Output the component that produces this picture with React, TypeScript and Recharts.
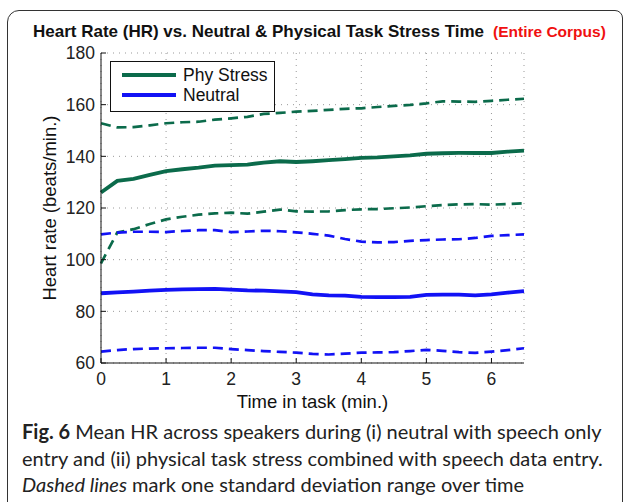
import { LineChart, Line, XAxis, YAxis, CartesianGrid } from "recharts";

// time in task (min.)
const time = [0, 0.25, 0.5, 0.75, 1, 1.25, 1.5, 1.75, 2, 2.25, 2.5, 2.75, 3, 3.25, 3.5, 3.75, 4, 4.25, 4.5, 4.75, 5, 5.25, 5.5, 5.75, 6, 6.25, 6.5];

// physical task stress: mean and +/- 1 std
const phyMean = [126, 130.5, 131.3, 132.8, 134.3, 135, 135.6, 136.4, 136.6, 136.8, 137.6, 138.1, 137.8, 138.1, 138.5, 138.9, 139.4, 139.6, 140, 140.4, 141, 141.2, 141.3, 141.3, 141.3, 141.8, 142.2];
const phyUpper = [152.8, 151.2, 151.3, 152, 152.8, 153.2, 153.4, 154.2, 154.7, 155.3, 156.4, 156.8, 157.3, 157.6, 158, 158.4, 158.6, 159.1, 159.5, 159.9, 160.5, 161.3, 161.2, 161.1, 161.5, 161.9, 162.3];
const phyLower = [98.6, 110.5, 111.8, 113.8, 115.6, 116.6, 117.4, 117.9, 118.2, 117.8, 118.6, 119.4, 118.7, 118.6, 118.7, 119.2, 119.5, 119.6, 119.9, 120.2, 120.7, 121.1, 121.4, 121.5, 121.3, 121.5, 121.8];

// neutral: mean and +/- 1 std
const neuMean = [87, 87.3, 87.6, 88, 88.3, 88.5, 88.6, 88.7, 88.4, 88.1, 88, 87.7, 87.4, 86.6, 86.2, 86.1, 85.6, 85.5, 85.5, 85.6, 86.4, 86.5, 86.5, 86.2, 86.6, 87.2, 87.8];
const neuUpper = [109.8, 110.5, 110.8, 110.8, 110.7, 111.1, 111.4, 111.4, 110.7, 110.9, 111.2, 111, 110.6, 110, 109.3, 108, 107, 106.7, 106.8, 107.3, 107.6, 107.8, 107.9, 108.4, 109.2, 109.5, 109.8];
const neuLower = [64.4, 65, 65.4, 65.6, 65.7, 65.8, 65.9, 65.9, 65.4, 65, 64.6, 64.3, 64, 63.5, 63.3, 63.6, 64, 64.1, 64.2, 64.6, 65.1, 64.7, 64.2, 63.9, 64.4, 65, 65.7];

const xTicks = [0, 1, 2, 3, 4, 5, 6];
const yTicks = [60, 80, 100, 120, 140, 160, 180];

const GREEN = "#0b6b4b";
const BLUE = "#1212f5";
const AXIS_FONT = "'Liberation Sans', Arial, sans-serif";

const data = time.map((t, i) => ({
  t,
  phyMean: phyMean[i],
  phyUpper: phyUpper[i],
  phyLower: phyLower[i],
  neuMean: neuMean[i],
  neuUpper: neuUpper[i],
  neuLower: neuLower[i],
}));

const legendItems = [
  { name: "Phy Stress", color: GREEN },
  { name: "Neutral", color: BLUE },
];

function LegendBox() {
  return (
    <div
      style={{
        position: "absolute",
        left: 110,
        top: 61,
        width: 163,
        height: 46,
        border: "1px solid #111",
        background: "#fff",
        padding: "3px 0 0 0",
        boxSizing: "content-box",
        fontFamily: AXIS_FONT,
        fontSize: 17.5,
        color: "#111",
      }}
    >
      {legendItems.map((it) => (
        <div key={it.name} style={{ display: "flex", alignItems: "center", height: 20 }}>
          <div style={{ width: 54, height: 4, background: it.color, marginLeft: 11, marginRight: 7 }} />
          <span>{it.name}</span>
        </div>
      ))}
    </div>
  );
}

export default function App() {
  const tick = { fontFamily: AXIS_FONT, fontSize: 17.5, fill: "#222" };
  const axisTitle = { fontFamily: AXIS_FONT, fontSize: 18.5, fill: "#111" };
  const line = { height: 26.5, whiteSpace: "nowrap" as const };
  return (
    <div style={{ position: "absolute", left: 0, top: 0, width: 625, height: 502, overflow: "hidden", background: "#fff" }}>
      <div
        style={{
          position: "absolute",
          left: 7,
          top: 10,
          width: 614,
          height: 540,
          border: "1.5px solid #333",
          borderTopLeftRadius: 12,
          borderTopRightRadius: 8,
        }}
      />
      <div
        style={{
          position: "absolute",
          left: 33,
          top: 22,
          fontFamily: AXIS_FONT,
          fontWeight: "bold",
          fontSize: 17,
          color: "#111",
          whiteSpace: "nowrap",
        }}
      >
        <span>Heart Rate (HR) vs. Neutral &amp; Physical Task Stress Time</span>
        <span style={{ color: "#f01010", fontSize: 15.5, marginLeft: 9 }}>(Entire Corpus)</span>
      </div>
      <div style={{ position: "absolute", left: 0, top: 0 }}>
        <LineChart width={625} height={420} data={data} margin={{ top: 53, right: 101, bottom: 17, left: 41 }}>
          <CartesianGrid stroke="#999" strokeDasharray="1 5" />
          <XAxis
            dataKey="t"
            type="number"
            domain={[0, 6.5]}
            ticks={xTicks}
            height={40}
            tick={tick}
            tickSize={-5}
            tickMargin={15}
            stroke="#111"
            label={{ value: "Time in task (min.)", position: "insideBottom", offset: -5, style: axisTitle }}
          />
          <XAxis
            xAxisId="top"
            orientation="top"
            dataKey="t"
            type="number"
            domain={[0, 6.5]}
            ticks={xTicks}
            height={0}
            tickSize={-5}
            tickFormatter={() => ""}
            stroke="#111"
          />
          <YAxis
            type="number"
            domain={[60, 180]}
            ticks={yTicks}
            width={60}
            tick={tick}
            tickSize={-5}
            tickMargin={11}
            stroke="#111"
            label={{ value: "Heart rate (beats/min.)", angle: -90, position: "insideLeft", offset: 8, style: { ...axisTitle, textAnchor: "middle" } }}
          />
          <YAxis
            yAxisId="right"
            orientation="right"
            type="number"
            domain={[60, 180]}
            ticks={yTicks}
            width={0}
            tickSize={-5}
            tickFormatter={() => ""}
            stroke="#111"
          />
          <Line dataKey="phyUpper" stroke={GREEN} strokeWidth={2.7} strokeDasharray="10 6" dot={false} isAnimationActive={false} />
          <Line dataKey="phyMean" stroke={GREEN} strokeWidth={3.8} dot={false} isAnimationActive={false} />
          <Line dataKey="phyLower" stroke={GREEN} strokeWidth={2.7} strokeDasharray="10 6" dot={false} isAnimationActive={false} />
          <Line dataKey="neuUpper" stroke={BLUE} strokeWidth={2.7} strokeDasharray="10 6" dot={false} isAnimationActive={false} />
          <Line dataKey="neuMean" stroke={BLUE} strokeWidth={3.8} dot={false} isAnimationActive={false} />
          <Line dataKey="neuLower" stroke={BLUE} strokeWidth={2.7} strokeDasharray="10 6" dot={false} isAnimationActive={false} />
        </LineChart>
      </div>
      <LegendBox />
      <div
        style={{
          position: "absolute",
          left: 22,
          top: 418,
          width: 600,
          fontFamily: "Lato, sans-serif",
          fontSize: 20,
          lineHeight: "26.5px",
          color: "#222",
        }}
      >
        <div style={line}>
          <b>Fig. 6</b> Mean HR across speakers during (i) neutral with speech only
        </div>
        <div style={line}>entry and (ii) physical task stress combined with speech data entry.</div>
        <div style={line}>
          <i>Dashed lines</i> mark one standard deviation range over time
        </div>
      </div>
    </div>
  );
}
